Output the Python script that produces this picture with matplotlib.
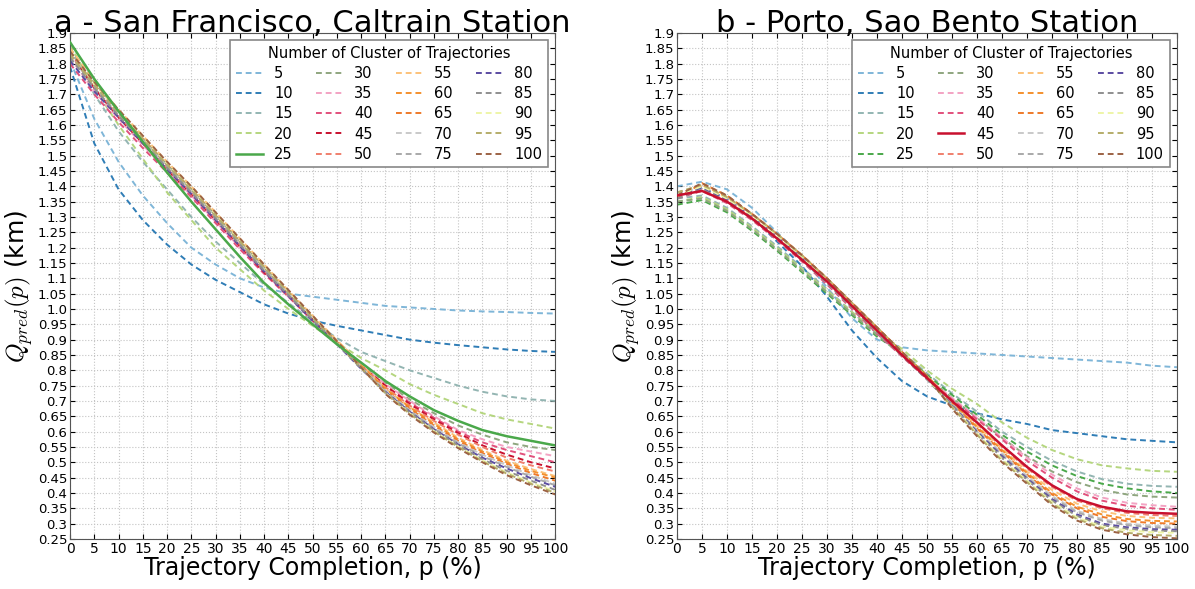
import matplotlib.pyplot as plt
import numpy as np

plt.rcParams['mathtext.fontset'] = 'cm'

# trajectory completion (%)
p = [0, 5, 10, 15, 20, 25, 30, 35, 40, 45, 50, 55, 60, 65, 70, 75, 80, 85, 90, 95, 100]
clusters = [5, 10, 15, 20, 25, 30, 35, 40, 45, 50, 55, 60, 65, 70, 75, 80, 85, 90, 95, 100]
colors = ['#7fb6d8', '#2f7db6', '#93b5b2', '#b5d67f', '#4aa84a', '#8fa67f', '#f3a3c3',
          '#e2507c', '#c8102e', '#f07f6c', '#fcc27a', '#f4912e', '#ee7a2a', '#c9c9c9',
          '#a9a9a9', '#5b4ca2', '#8f8f8f', '#eef5a8', '#b5ad6a', '#9c6244']

# a - San Francisco
sf_5 = [1.81, 1.62, 1.48, 1.37, 1.28, 1.20, 1.145, 1.10, 1.07, 1.05, 1.04, 1.03, 1.02, 1.01, 1.005, 1.0, 0.995, 0.992, 0.99, 0.987, 0.985]
sf_10 = [1.79, 1.54, 1.39, 1.29, 1.21, 1.145, 1.095, 1.055, 1.015, 0.985, 0.962, 0.945, 0.93, 0.915, 0.90, 0.89, 0.882, 0.875, 0.868, 0.863, 0.86]
sf_15 = [1.85, 1.70, 1.58, 1.48, 1.39, 1.30, 1.22, 1.15, 1.08, 1.02, 0.96, 0.905, 0.86, 0.83, 0.80, 0.775, 0.75, 0.73, 0.715, 0.705, 0.70]
sf_20 = [1.86, 1.72, 1.60, 1.49, 1.38, 1.29, 1.20, 1.13, 1.06, 1.00, 0.945, 0.89, 0.84, 0.80, 0.755, 0.72, 0.69, 0.66, 0.64, 0.625, 0.61]
sf_25 = [1.87, 1.75, 1.645, 1.545, 1.445, 1.35, 1.26, 1.17, 1.085, 1.015, 0.95, 0.885, 0.825, 0.765, 0.715, 0.67, 0.635, 0.605, 0.585, 0.57, 0.555]
sf_30 = [1.85, 1.74, 1.645, 1.555, 1.47, 1.39, 1.305, 1.22, 1.135, 1.05, 0.97, 0.895, 0.82, 0.76, 0.705, 0.66, 0.62, 0.59, 0.565, 0.55, 0.54]
sf_35 = [1.82, 1.71, 1.62, 1.535, 1.45, 1.37, 1.285, 1.20, 1.12, 1.04, 0.965, 0.89, 0.815, 0.755, 0.70, 0.65, 0.605, 0.575, 0.55, 0.535, 0.52]
sf_40 = [1.80, 1.70, 1.61, 1.525, 1.445, 1.365, 1.28, 1.195, 1.115, 1.04, 0.962, 0.888, 0.815, 0.75, 0.695, 0.645, 0.60, 0.565, 0.54, 0.52, 0.50]
sf_45 = [1.84, 1.72, 1.625, 1.54, 1.455, 1.375, 1.29, 1.205, 1.12, 1.045, 0.965, 0.89, 0.815, 0.75, 0.69, 0.64, 0.595, 0.555, 0.525, 0.50, 0.48]
sf_50 = [1.83, 1.725, 1.63, 1.545, 1.46, 1.38, 1.295, 1.21, 1.125, 1.045, 0.968, 0.892, 0.815, 0.745, 0.685, 0.635, 0.59, 0.55, 0.515, 0.49, 0.47]
sf_55 = [1.85, 1.745, 1.65, 1.565, 1.48, 1.40, 1.315, 1.23, 1.145, 1.06, 0.978, 0.898, 0.82, 0.74, 0.68, 0.63, 0.58, 0.54, 0.505, 0.478, 0.455]
sf_60 = [1.84, 1.735, 1.645, 1.56, 1.475, 1.395, 1.31, 1.225, 1.14, 1.058, 0.975, 0.895, 0.815, 0.74, 0.68, 0.625, 0.575, 0.535, 0.50, 0.472, 0.45]
sf_65 = [1.83, 1.73, 1.64, 1.555, 1.47, 1.39, 1.305, 1.22, 1.135, 1.055, 0.972, 0.893, 0.812, 0.735, 0.675, 0.62, 0.57, 0.53, 0.495, 0.465, 0.44]
sf_70 = [1.82, 1.72, 1.635, 1.55, 1.465, 1.385, 1.30, 1.215, 1.13, 1.05, 0.97, 0.89, 0.81, 0.735, 0.67, 0.615, 0.565, 0.525, 0.49, 0.458, 0.43]
sf_75 = [1.83, 1.725, 1.635, 1.55, 1.465, 1.385, 1.30, 1.215, 1.13, 1.05, 0.968, 0.89, 0.81, 0.73, 0.668, 0.61, 0.562, 0.52, 0.485, 0.453, 0.425]
sf_80 = [1.81, 1.71, 1.625, 1.54, 1.455, 1.375, 1.29, 1.205, 1.122, 1.042, 0.962, 0.885, 0.805, 0.73, 0.665, 0.608, 0.558, 0.515, 0.48, 0.448, 0.42]
sf_85 = [1.82, 1.72, 1.63, 1.545, 1.46, 1.38, 1.295, 1.21, 1.125, 1.045, 0.965, 0.887, 0.806, 0.728, 0.662, 0.605, 0.555, 0.51, 0.472, 0.44, 0.41]
sf_90 = [1.84, 1.735, 1.645, 1.56, 1.475, 1.395, 1.31, 1.225, 1.14, 1.058, 0.975, 0.893, 0.81, 0.726, 0.66, 0.602, 0.552, 0.506, 0.467, 0.434, 0.405]
sf_95 = [1.83, 1.73, 1.64, 1.555, 1.47, 1.39, 1.305, 1.22, 1.137, 1.055, 0.972, 0.89, 0.808, 0.725, 0.658, 0.60, 0.55, 0.503, 0.463, 0.43, 0.40]
sf_100 = [1.84, 1.74, 1.65, 1.565, 1.48, 1.40, 1.315, 1.23, 1.145, 1.062, 0.978, 0.895, 0.81, 0.723, 0.655, 0.597, 0.546, 0.50, 0.458, 0.425, 0.395]

# b - Porto
po_5 = [1.40, 1.415, 1.39, 1.33, 1.25, 1.17, 1.07, 0.97, 0.90, 0.875, 0.865, 0.86, 0.855, 0.85, 0.845, 0.84, 0.835, 0.83, 0.825, 0.815, 0.81]
po_10 = [1.38, 1.395, 1.36, 1.30, 1.22, 1.14, 1.04, 0.93, 0.84, 0.765, 0.715, 0.685, 0.66, 0.64, 0.625, 0.605, 0.595, 0.585, 0.575, 0.57, 0.565]
po_15 = [1.36, 1.37, 1.33, 1.27, 1.205, 1.135, 1.065, 0.99, 0.92, 0.86, 0.79, 0.725, 0.665, 0.60, 0.55, 0.505, 0.47, 0.445, 0.43, 0.423, 0.42]
po_20 = [1.35, 1.365, 1.325, 1.265, 1.20, 1.13, 1.06, 0.99, 0.925, 0.87, 0.80, 0.74, 0.69, 0.63, 0.58, 0.54, 0.51, 0.49, 0.48, 0.472, 0.469]
po_25 = [1.34, 1.355, 1.315, 1.255, 1.19, 1.12, 1.05, 0.98, 0.91, 0.855, 0.785, 0.72, 0.655, 0.59, 0.535, 0.49, 0.455, 0.43, 0.415, 0.405, 0.40]
po_30 = [1.35, 1.36, 1.32, 1.26, 1.195, 1.125, 1.055, 0.985, 0.915, 0.85, 0.78, 0.71, 0.645, 0.58, 0.52, 0.47, 0.435, 0.41, 0.395, 0.388, 0.385]
po_35 = [1.37, 1.39, 1.35, 1.295, 1.23, 1.16, 1.085, 1.005, 0.925, 0.848, 0.775, 0.71, 0.645, 0.58, 0.515, 0.46, 0.415, 0.385, 0.368, 0.36, 0.355]
po_40 = [1.36, 1.385, 1.345, 1.29, 1.225, 1.155, 1.08, 1.0, 0.92, 0.845, 0.772, 0.705, 0.64, 0.575, 0.505, 0.45, 0.405, 0.375, 0.358, 0.35, 0.345]
po_45 = [1.37, 1.385, 1.35, 1.295, 1.23, 1.16, 1.09, 1.01, 0.93, 0.85, 0.775, 0.70, 0.63, 0.555, 0.485, 0.425, 0.38, 0.355, 0.34, 0.335, 0.332]
po_50 = [1.37, 1.39, 1.355, 1.30, 1.235, 1.165, 1.09, 1.01, 0.93, 0.852, 0.778, 0.70, 0.625, 0.55, 0.48, 0.42, 0.375, 0.35, 0.335, 0.328, 0.325]
po_55 = [1.38, 1.40, 1.36, 1.305, 1.24, 1.17, 1.095, 1.015, 0.935, 0.855, 0.78, 0.70, 0.62, 0.545, 0.47, 0.41, 0.365, 0.34, 0.325, 0.319, 0.317]
po_60 = [1.37, 1.405, 1.365, 1.31, 1.245, 1.175, 1.10, 1.02, 0.94, 0.858, 0.78, 0.695, 0.615, 0.54, 0.465, 0.40, 0.355, 0.33, 0.315, 0.309, 0.307]
po_65 = [1.36, 1.41, 1.37, 1.31, 1.245, 1.175, 1.10, 1.02, 0.94, 0.86, 0.782, 0.695, 0.61, 0.535, 0.46, 0.395, 0.35, 0.322, 0.308, 0.302, 0.30]
po_70 = [1.37, 1.395, 1.355, 1.30, 1.235, 1.165, 1.09, 1.01, 0.93, 0.852, 0.775, 0.69, 0.605, 0.53, 0.455, 0.39, 0.342, 0.315, 0.30, 0.293, 0.29]
po_75 = [1.37, 1.39, 1.35, 1.295, 1.23, 1.16, 1.085, 1.005, 0.925, 0.848, 0.772, 0.69, 0.60, 0.525, 0.45, 0.385, 0.337, 0.31, 0.295, 0.288, 0.285]
po_80 = [1.37, 1.395, 1.355, 1.30, 1.235, 1.165, 1.09, 1.01, 0.93, 0.85, 0.772, 0.685, 0.60, 0.52, 0.447, 0.38, 0.33, 0.30, 0.288, 0.282, 0.28]
po_85 = [1.36, 1.39, 1.35, 1.295, 1.23, 1.16, 1.085, 1.005, 0.925, 0.848, 0.77, 0.685, 0.595, 0.515, 0.443, 0.375, 0.325, 0.295, 0.283, 0.277, 0.275]
po_90 = [1.37, 1.40, 1.36, 1.305, 1.24, 1.17, 1.095, 1.015, 0.935, 0.855, 0.775, 0.68, 0.595, 0.51, 0.44, 0.37, 0.32, 0.29, 0.278, 0.272, 0.27]
po_95 = [1.38, 1.405, 1.365, 1.31, 1.245, 1.175, 1.10, 1.02, 0.94, 0.858, 0.778, 0.68, 0.59, 0.505, 0.435, 0.365, 0.315, 0.285, 0.27, 0.263, 0.26]
po_100 = [1.37, 1.41, 1.37, 1.31, 1.245, 1.175, 1.10, 1.02, 0.94, 0.86, 0.78, 0.675, 0.585, 0.50, 0.43, 0.36, 0.31, 0.28, 0.265, 0.256, 0.252]

sf_curves = [sf_5, sf_10, sf_15, sf_20, sf_25, sf_30, sf_35, sf_40, sf_45, sf_50,
             sf_55, sf_60, sf_65, sf_70, sf_75, sf_80, sf_85, sf_90, sf_95, sf_100]
po_curves = [po_5, po_10, po_15, po_20, po_25, po_30, po_35, po_40, po_45, po_50,
             po_55, po_60, po_65, po_70, po_75, po_80, po_85, po_90, po_95, po_100]

yticks = np.arange(0.25, 1.9001, 0.05)
ylabels = []
for v in yticks:
    s = '%.2f' % v
    if s.endswith('0'):
        s = s[:-1]
    ylabels.append(s)

fig = plt.figure(figsize=(11.95, 5.89), dpi=100)
ax1 = fig.add_axes([0.0586, 0.085, 0.406, 0.859])
ax2 = fig.add_axes([0.5665, 0.085, 0.4184, 0.859])

def draw(ax, curves, solid, title):
    for k, c, col in zip(clusters, curves, colors):
        if k == solid:
            ax.plot(p, c, color=col, lw=1.8, label=str(k), zorder=3)
        else:
            ax.plot(p, c, color=col, lw=1.4, ls='--', dashes=(3, 2), label=str(k))
    ax.set_xlim(0, 100)
    ax.set_ylim(0.25, 1.9)
    ax.set_xticks(range(0, 101, 5))
    ax.set_yticks(yticks)
    ax.set_yticklabels(ylabels)
    ax.tick_params(labelsize=9.5, direction='in', top=True, right=True, pad=2)
    ax.tick_params(axis='x', labelsize=10)
    ax.grid(True, color='#c4c4c4', ls=':', lw=0.8)
    ax.set_title(title, fontsize=22, pad=1)
    ax.set_xlabel('Trajectory Completion, p (%)', fontsize=17, labelpad=0)
    ax.set_ylabel(r'$Q_{pred}(p)$ (km)', fontsize=18, labelpad=2)
    for sp in ax.spines.values():
        sp.set_color('#555555')
    leg = ax.legend(ncol=4, loc='upper right', fontsize=10.5, title='Number of Cluster of Trajectories',
                    title_fontsize=10.5, handlelength=1.8, columnspacing=1.6, labelspacing=0.35,
                    fancybox=False, edgecolor='#888888', framealpha=1, borderaxespad=0.5)
    leg.get_frame().set_linewidth(1.2)

draw(ax1, sf_curves, 25, 'a - San Francisco, Caltrain Station')
draw(ax2, po_curves, 45, 'b - Porto, Sao Bento Station')

fig.savefig('out.png', dpi=100)
